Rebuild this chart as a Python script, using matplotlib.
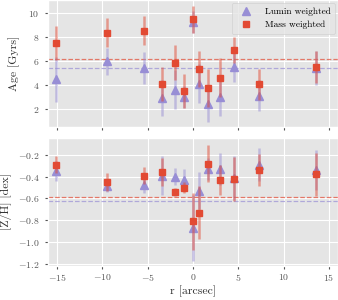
import numpy as np
import matplotlib
matplotlib.use('Agg')
import matplotlib.pyplot as plt

plt.style.use('ggplot')
plt.rcParams['font.family'] = 'serif'
plt.rcParams['font.serif'] = ['cmr10']
plt.rcParams['mathtext.fontset'] = 'cm'
plt.rcParams['axes.formatter.use_mathtext'] = True

# radial bins
r = [-15.1, -9.5, -5.4, -3.4, -2.0, -1.0, 0.0, 0.66, 1.69, 2.94, 4.55, 7.31, 13.56]

# ages [Gyr]
age_lum = [4.45, 5.95, 5.4, 2.9, 3.6, 3.0, 9.2, 4.1, 2.45, 3.0, 5.5, 3.1, 5.4]
age_lum_err = [1.9, 1.1, 1.3, 1.5, 1.6, 0.9, 0.9, 1.6, 1.5, 1.6, 1.25, 1.3, 1.4]
age_mass = [7.5, 8.35, 8.5, 4.05, 5.85, 3.5, 9.45, 5.35, 3.75, 4.6, 6.9, 4.05, 5.5]
age_mass_err = [1.4, 1.2, 1.2, 1.4, 1.45, 1.4, 1.1, 1.5, 1.6, 1.6, 1.1, 1.3, 1.35]

# metallicity [dex]
zh_lum = [-0.35, -0.49, -0.48, -0.39, -0.40, -0.43, -0.87, -0.53, -0.33, -0.33, -0.41, -0.29, -0.34]
zh_lum_err = [0.09, 0.05, 0.07, 0.18, 0.08, 0.10, 0.30, 0.17, 0.10, 0.15, 0.20, 0.15, 0.18]
zh_mass = [-0.29, -0.45, -0.39, -0.36, -0.54, -0.50, -0.81, -0.73, -0.28, -0.43, -0.42, -0.34, -0.38]
zh_mass_err = [0.08, 0.08, 0.08, 0.13, 0.04, 0.05, 0.26, 0.24, 0.17, 0.14, 0.20, 0.15, 0.20]

# light / mass weighted global values
age_ref = [5.37, 6.17]
zh_ref = [-0.62, -0.59]

blue = '#988ED5'
red = '#E24A33'

fig, (ax1, ax2) = plt.subplots(2, 1, figsize=(3.38, 3.0), dpi=100, sharex=True)
fig.subplots_adjust(left=0.142, right=1.0, top=1.0, bottom=0.115, hspace=0.09)

for ax, yl, yle, ym, yme, ref in [(ax1, age_lum, age_lum_err, age_mass, age_mass_err, age_ref),
                                  (ax2, zh_lum, zh_lum_err, zh_mass, zh_mass_err, zh_ref)]:
    ax.axhline(ref[0], color=blue, ls='--', lw=0.9, alpha=0.7)
    ax.axhline(ref[1], color=red, ls='--', lw=0.9, alpha=0.7)
    ax.errorbar(r, yl, yerr=yle, fmt='none', ecolor=blue, elinewidth=1.8, alpha=0.5)
    ax.plot(r, yl, '^', color=blue, ms=5.5, label='Lumin weighted')
    ax.errorbar(r, ym, yerr=yme, fmt='none', ecolor=red, elinewidth=1.8, alpha=0.5)
    ax.plot(r, ym, 's', color=red, ms=5, label='Mass weighted')
    ax.tick_params(axis='y', labelsize=7, length=2, pad=4)
    ax.tick_params(axis='x', labelsize=7, length=2, pad=2.5)

ax1.set_ylim(0.5, 11.05)
ax1.set_yticks([2, 4, 6, 8, 10])
ax2.set_ylim(-1.215, -0.05)
ax2.set_yticks([-1.2, -1.0, -0.8, -0.6, -0.4, -0.2])
ax2.set_xlim(-16, 16)
ax2.set_xticks([-15, -10, -5, 0, 5, 10, 15])

ax1.set_ylabel('Age [Gyrs]', fontsize=8.5, color='#333333', labelpad=6)
ax2.set_ylabel('[Z/H] [dex]', fontsize=8.5, color='#333333')
ax2.set_xlabel('r [arcsec]', fontsize=8.5, color='#333333', labelpad=2)

ax1.legend(loc='upper right', fontsize=6.8, handletextpad=1.0, borderpad=0.5,
           borderaxespad=0.3)

fig.savefig('out.png', dpi=100)
